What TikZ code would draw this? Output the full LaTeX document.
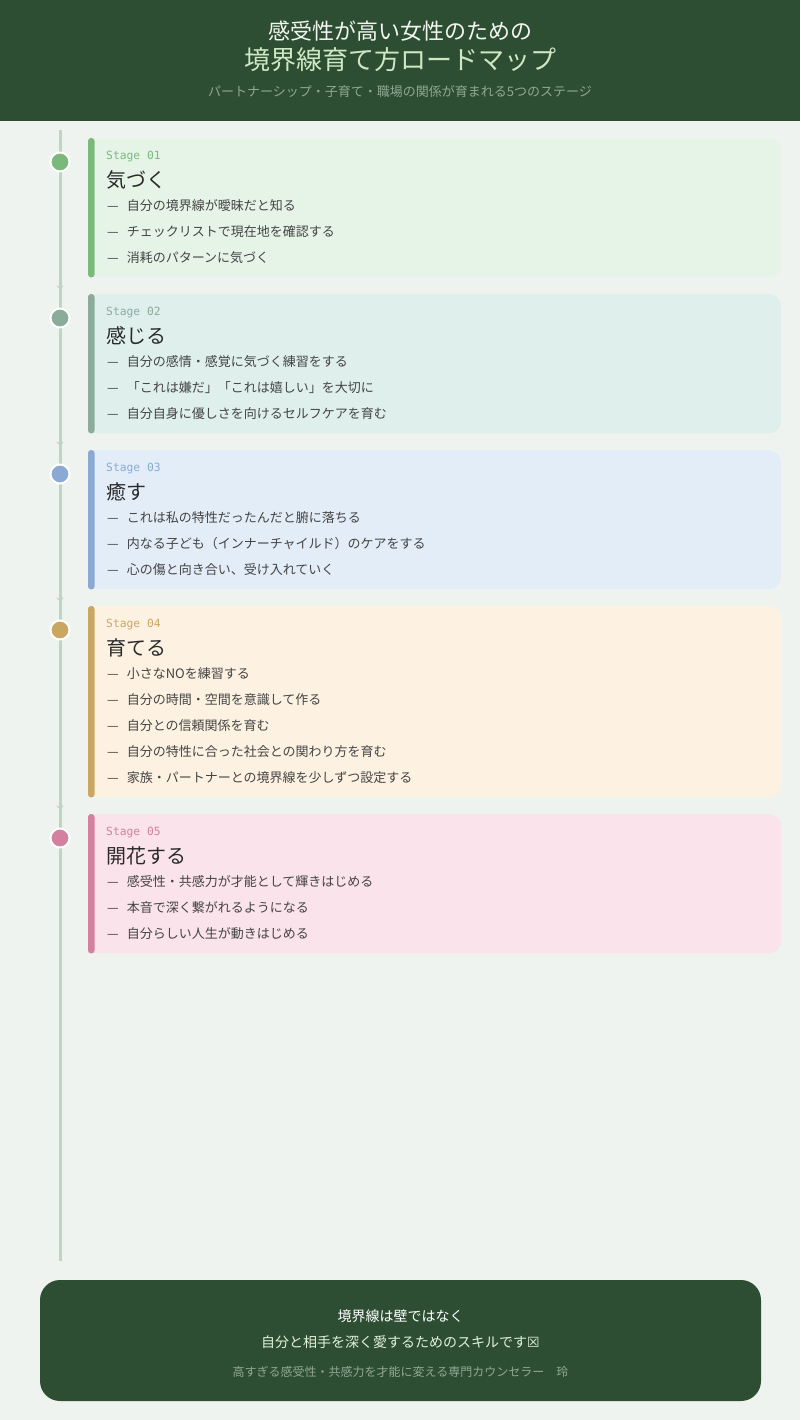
\documentclass[tikz,border=0pt]{standalone}
\usepackage{fontspec}
\setmainfont{Noto Sans CJK JP}
\newfontfamily\stagefont{DejaVu Sans Mono}
\newfontfamily\symfont{DejaVu Sans}
\usetikzlibrary{arrows.meta}

\definecolor{pagebg}{HTML}{EEF3EF}
\definecolor{headbg}{HTML}{2E4E33}
\definecolor{headtext}{HTML}{F2F5F0}
\definecolor{headgreen}{HTML}{CDE8C2}
\definecolor{headmuted}{HTML}{8FA893}
\definecolor{linecol}{HTML}{BCD6C1}
\definecolor{ink}{HTML}{2A2A2A}
\definecolor{itemgray}{HTML}{444444}
\definecolor{accA}{HTML}{7BB97B}
\definecolor{bgA}{HTML}{E6F4E8}
\definecolor{accB}{HTML}{8BAB9B}
\definecolor{bgB}{HTML}{DFF0EC}
\definecolor{accC}{HTML}{8AAAD4}
\definecolor{bgC}{HTML}{E3EDF8}
\definecolor{accD}{HTML}{C9A762}
\definecolor{bgD}{HTML}{FDF2E2}
\definecolor{accE}{HTML}{D4809F}
\definecolor{bgE}{HTML}{FAE3EA}

\begin{document}
\begin{tikzpicture}[x=1pt,y=-1pt,>={Straight Barb[length=3pt,width=6pt]}]
	\tikzstyle{card}=[rectangle,rounded corners=12pt,minimum width=693pt,anchor=north west,inner sep=0pt]
	\tikzstyle{bar}=[rounded corners=3pt]
	\tikzstyle{dot}=[circle,draw=white,line width=2pt,minimum size=19pt,inner sep=0pt]
	\tikzstyle{timeline}=[draw=linecol,line width=3pt]
	\tikzstyle{flow}=[draw=linecol,line width=1pt,shorten >=18pt]
	\tikzstyle{stage}=[anchor=west,inner sep=0pt,font=\stagefont\fontsize{11.3}{13}\selectfont]
	\tikzstyle{title}=[anchor=west,inner sep=0pt,text=ink,font=\fontsize{20}{24}\selectfont]
	\tikzstyle{item}=[anchor=west,inner sep=0pt,text=itemgray,font=\fontsize{13}{15}\selectfont]
	\tikzstyle{footer}=[rectangle,rounded corners=20pt,fill=headbg,minimum width=721pt,minimum height=121pt,inner sep=0pt]

	\useasboundingbox (0,0) rectangle (800,1420);
	\fill[pagebg] (0,0) rectangle (800,1420);

	% header
	\fill[headbg] (0,0) rectangle (800,121);
	\node[text=headtext,font=\fontsize{22}{26}\selectfont] (head1) at (400,31) {感受性が高い女性のための};
	\node[text=headgreen,font=\fontsize{26}{30}\selectfont] (head2) at (400,60) {境界線育て方ロードマップ};
	\node[text=headmuted,font=\fontsize{13}{15}\selectfont] (head3) at (400,92) {パートナーシップ・子育て・職場の関係が育まれる5つのステージ};

	% timeline
	\coordinate (ltop) at (60,130);
	\coordinate (lbot) at (60,1261);
	\draw[timeline] (ltop) -- (lbot);

	\node [dot,fill=accA] (d1) at (60,162) {};
	\node [dot,fill=accB] (d2) at (60,318) {};
	\node [dot,fill=accC] (d3) at (60,474) {};
	\node [dot,fill=accD] (d4) at (60,630) {};
	\node [dot,fill=accE] (d5) at (60,838) {};

	\path[flow,->] (d1) -- (d2);
	\path[flow,->] (d2) -- (d3);
	\path[flow,->] (d3) -- (d4);
	\path[flow,->] (d4) -- (d5);

	% stage 01
	\node [card,fill=bgA,minimum height=139pt] (card1) at (88,138) {};
	\fill[bgA] ([xshift=4pt]card1.north west) rectangle ([xshift=14pt]card1.south west);
	\fill[accA,bar] (card1.north west) rectangle ([xshift=6.5pt]card1.south west);
	\node [stage,text=accA] (s1) at (106,157) {Stage 01};
	\node [title] (t1) at (106,180) {気づく};
	\node [item] (i11) at (107,206) {—\hspace{8pt}自分の境界線が曖昧だと知る};
	\node [item] (i12) at (107,232) {—\hspace{8pt}チェックリストで現在地を確認する};
	\node [item] (i13) at (107,258) {—\hspace{8pt}消耗のパターンに気づく};

	% stage 02
	\node [card,fill=bgB,minimum height=139pt] (card2) at (88,294) {};
	\fill[bgB] ([xshift=4pt]card2.north west) rectangle ([xshift=14pt]card2.south west);
	\fill[accB,bar] (card2.north west) rectangle ([xshift=6.5pt]card2.south west);
	\node [stage,text=accB] (s2) at (106,313) {Stage 02};
	\node [title] (t2) at (106,336) {感じる};
	\node [item] (i21) at (107,362) {—\hspace{8pt}自分の感情・感覚に気づく練習をする};
	\node [item] (i22) at (107,388) {—\hspace{8pt}「これは嫌だ」「これは嬉しい」を大切に};
	\node [item] (i23) at (107,414) {—\hspace{8pt}自分自身に優しさを向けるセルフケアを育む};

	% stage 03
	\node [card,fill=bgC,minimum height=139pt] (card3) at (88,450) {};
	\fill[bgC] ([xshift=4pt]card3.north west) rectangle ([xshift=14pt]card3.south west);
	\fill[accC,bar] (card3.north west) rectangle ([xshift=6.5pt]card3.south west);
	\node [stage,text=accC] (s3) at (106,469) {Stage 03};
	\node [title] (t3) at (106,492) {癒す};
	\node [item] (i31) at (107,518) {—\hspace{8pt}これは私の特性だったんだと腑に落ちる};
	\node [item] (i32) at (107,544) {—\hspace{8pt}内なる子ども（インナーチャイルド）のケアをする};
	\node [item] (i33) at (107,570) {—\hspace{8pt}心の傷と向き合い、受け入れていく};

	% stage 04
	\node [card,fill=bgD,minimum height=191pt] (card4) at (88,606) {};
	\fill[bgD] ([xshift=4pt]card4.north west) rectangle ([xshift=14pt]card4.south west);
	\fill[accD,bar] (card4.north west) rectangle ([xshift=6.5pt]card4.south west);
	\node [stage,text=accD] (s4) at (106,625) {Stage 04};
	\node [title] (t4) at (106,648) {育てる};
	\node [item] (i41) at (107,674) {—\hspace{8pt}小さなNOを練習する};
	\node [item] (i42) at (107,700) {—\hspace{8pt}自分の時間・空間を意識して作る};
	\node [item] (i43) at (107,726) {—\hspace{8pt}自分との信頼関係を育む};
	\node [item] (i44) at (107,752) {—\hspace{8pt}自分の特性に合った社会との関わり方を育む};
	\node [item] (i45) at (107,778) {—\hspace{8pt}家族・パートナーとの境界線を少しずつ設定する};

	% stage 05
	\node [card,fill=bgE,minimum height=139pt] (card5) at (88,814) {};
	\fill[bgE] ([xshift=4pt]card5.north west) rectangle ([xshift=14pt]card5.south west);
	\fill[accE,bar] (card5.north west) rectangle ([xshift=6.5pt]card5.south west);
	\node [stage,text=accE] (s5) at (106,833) {Stage 05};
	\node [title] (t5) at (106,856) {開花する};
	\node [item] (i51) at (107,882) {—\hspace{8pt}感受性・共感力が才能として輝きはじめる};
	\node [item] (i52) at (107,908) {—\hspace{8pt}本音で深く繋がれるようになる};
	\node [item] (i53) at (107,934) {—\hspace{8pt}自分らしい人生が動きはじめる};

	% footer
	\node [footer] (foot) at (400.5,1340.5) {};
	\node [text=white,font=\fontsize{14}{16}\selectfont] (f1) at (400.5,1316) {境界線は壁ではなく};
	\node [text=headgreen!60!white,font=\fontsize{14}{16}\selectfont] (f2) at (400.5,1342) {自分と相手を深く愛するためのスキルです{\symfont ☒}};
	\node [text=headmuted,font=\fontsize{12}{14}\selectfont] (f3) at (400.5,1372) {高すぎる感受性・共感力を才能に変える専門カウンセラー　玲};

\end{tikzpicture}
\end{document}
